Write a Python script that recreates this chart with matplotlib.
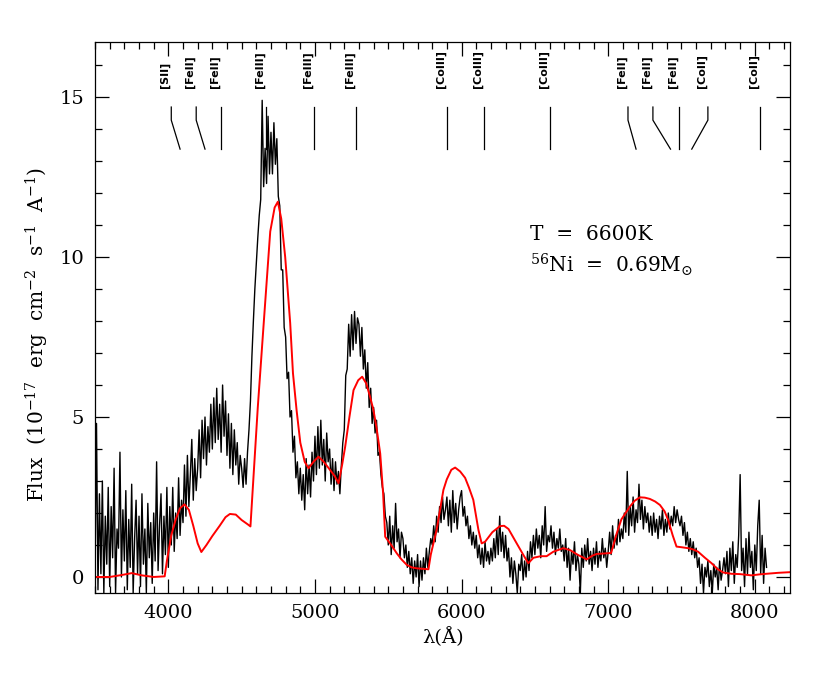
import numpy as np
import matplotlib
matplotlib.use("Agg")
import matplotlib.pyplot as plt

plt.rcParams['font.family'] = 'DejaVu Serif'
plt.rcParams['mathtext.fontset'] = 'dejavuserif'

obs_start = 3500
obs_step = 10
obs_flux = [
    0.2, 4.8, -0.4, 2.6, 0.1, 3.0, -0.5, 1.9, 0.4, 2.8,      # 3500
    -0.3, 2.2, 0.6, 3.4, -0.5, 1.5, 0.9, 3.9, 0.0, 2.1,      # 3600
    0.5, 2.7, -0.4, 1.8, 0.3, 2.9, -0.5, 1.2, 2.4, 0.1,      # 3700
    1.9, -0.3, 2.6, 0.4, 1.5, -0.5, 2.3, 0.6, 1.7, -0.2,     # 3800
    2.0, 0.5, 3.6, 0.2, 1.6, 2.6, 0.1, 1.9, 0.7, 2.8,        # 3900
    0.3, 2.2, 1.0, 2.8, 0.8, 2.0, 1.2, 3.1, 1.3, 2.4,        # 4000
    1.7, 3.5, 1.9, 3.8, 2.2, 3.2, 4.3, 2.4, 3.7, 2.7,        # 4100
    3.4, 4.6, 3.1, 4.9, 3.7, 5.0, 3.5, 4.7, 3.9, 5.4,        # 4200
    4.0, 5.6, 4.2, 5.9, 4.3, 5.4, 3.9, 6.0, 4.4, 5.5,        # 4300
    3.8, 5.1, 3.4, 4.8, 3.2, 4.6, 3.5, 4.2, 2.9, 3.8,        # 4400
    3.4, 2.8, 3.7, 2.9, 3.9, 4.6, 5.5, 6.9, 8.0, 9.0,        # 4500
    9.8, 10.6, 11.3, 11.8, 14.9, 12.2, 13.4, 12.3, 14.4, 12.6,  # 4600
    13.9, 12.6, 14.2, 12.9, 13.7, 11.9, 11.6, 9.6, 9.6, 7.8,    # 4700
    7.5, 6.2, 6.4, 5.0, 5.2, 3.9, 4.4, 3.1, 3.6, 2.6,        # 4800
    3.4, 2.4, 3.2, 2.1, 3.7, 2.6, 3.5, 2.5, 3.9, 3.0,        # 4900
    4.4, 3.2, 4.7, 3.4, 4.9, 3.5, 4.3, 3.0, 4.5, 3.6,        # 5000
    4.0, 2.9, 3.7, 2.7, 3.6, 2.9, 3.3, 2.6, 3.5, 4.2,        # 5100
    4.6, 6.3, 6.5, 7.9, 6.9, 8.2, 7.1, 8.3, 7.3, 8.1,        # 5200
    7.9, 6.9, 7.8, 6.5, 7.1, 5.9, 6.7, 5.3, 5.9, 4.8,        # 5300
    5.3, 4.5, 4.9, 3.8, 3.9, 3.2, 2.8, 2.6, 1.9, 1.7,        # 5400
    1.0, 1.9, 0.7, 1.6, 0.9, 2.3, 1.1, 1.5, 0.6, 1.4,        # 5500
    1.2, 0.6, 1.0, 0.3, 0.8, 0.1, 0.6, -0.2, 0.5, 0.0,       # 5600
    0.7, -0.3, 0.5, -0.1, 0.6, 0.1, 0.9, 0.3, 0.8, 1.2,      # 5700
    1.0, 1.6, 1.1, 1.9, 1.4, 2.2, 1.7, 2.5, 1.8, 2.1,        # 5800
    2.5, 1.6, 2.4, 1.4, 2.7, 1.7, 2.3, 1.5, 2.1, 2.5,        # 5900
    2.7, 1.9, 2.2, 1.6, 1.9, 1.2, 1.6, 1.0, 1.4, 0.9,        # 6000
    1.3, 0.6, 1.0, 0.4, 0.9, 0.3, 1.1, 0.5, 0.8, 0.4,        # 6100
    0.9, 0.5, 1.2, 0.6, 1.5, 0.7, 1.9, 0.8, 1.4, 0.6,        # 6200
    1.3, 0.5, 0.9, 0.0, 0.6, -0.2, 0.5, 0.1, -0.5, 0.4,      # 6300
    0.2, 0.7, -0.1, 0.5, 0.0, 0.8, 0.2, 1.1, 0.6, 1.3,       # 6400
    0.7, 1.5, 0.9, 1.3, 0.6, 1.6, 1.0, 2.2, 0.8, 1.3,        # 6500
    1.1, 1.6, 0.9, 1.4, 0.7, 1.2, 0.9, 1.5, 0.8, 1.0,        # 6600
    0.5, 1.2, 0.3, 0.9, -0.1, 0.8, 0.4, 1.1, 0.2, 0.7,       # 6700
    0.4, -0.5, 0.9, 0.3, 1.0, 0.5, 1.2, 0.4, 0.8, 0.2,       # 6800
    0.9, 0.4, 1.1, 0.3, 0.8, 0.5, 1.2, 0.6, 0.9, 0.3,        # 6900
    0.8, 1.4, 0.7, 1.6, 0.9, 1.3, 1.0, 1.8, 1.1, 1.5,        # 7000
    1.2, 2.0, 1.4, 3.3, 1.3, 2.2, 1.6, 2.5, 1.4, 2.1,        # 7100
    1.7, 2.9, 1.8, 2.4, 1.5, 2.2, 1.7, 2.0, 1.4, 1.9,        # 7200
    1.3, 2.0, 1.4, 1.8, 1.2, 1.9, 1.5, 2.1, 1.3, 1.8,        # 7300
    1.4, 2.0, 1.5, 1.9, 1.6, 2.2, 1.7, 2.1, 1.8, 1.6,        # 7400
    1.9, 1.3, 1.7, 1.0, 1.4, 0.8, 1.2, 0.7, 1.1, 0.6,        # 7500
    0.9, 0.3, 0.6, -0.2, 0.4, -0.5, 0.3, 0.0, 0.5, -0.3,     # 7600
    0.2, -0.5, 0.4, 0.0, 0.3, -0.4, 0.5, -0.1, 0.2, 0.6,     # 7700
    0.1, 0.8, -0.3, 0.9, 0.2, 1.1, -0.2, 0.7, 0.3, 1.3,      # 7800
    3.2, 0.2, 0.9, -0.3, 1.2, 0.1, 1.4, 0.3, 0.8, -0.4,      # 7900
    1.0, 0.2, 1.6, 2.4, 0.1, 1.3, -0.2, 0.9, 0.3,            # 8000
]
obs_wave = obs_start + obs_step * np.arange(len(obs_flux))

# synthetic model spectrum
mod_wave = [3500, 3600, 3680, 3750, 3820, 3900, 3975, 3990, 4020, 4050,
            4080, 4110, 4140, 4170, 4200, 4225, 4260, 4300, 4350, 4390,
            4420, 4460, 4500, 4540, 4560, 4575, 4610, 4650, 4695, 4725,
            4747, 4770, 4797, 4831, 4850, 4875, 4900, 4930, 4956, 4990,
            5024, 5060, 5104, 5135, 5161, 5185, 5206, 5235, 5263, 5295,
            5322, 5350, 5376, 5399, 5422, 5445, 5465, 5479, 5520, 5558,
            5590, 5627, 5660, 5695, 5774, 5790, 5831, 5876, 5899, 5930,
            5956, 5990, 6024, 6050, 6080, 6115, 6137, 6160, 6210, 6262,
            6290, 6320, 6376, 6420, 6455, 6490, 6540, 6580, 6626, 6694,
            6740, 6790, 6853, 6890, 6921, 6990, 7020, 7058, 7090, 7148,
            7180, 7216, 7250, 7284, 7320, 7353, 7385, 7409, 7440, 7466,
            7500, 7545, 7580, 7613, 7660, 7705, 7745, 7784, 7840, 7898,
            7977, 8030, 8079, 8160, 8240]
mod_flux = [0.0, 0.0, 0.06, 0.12, 0.05, 0.0, 0.02, 0.5, 1.3, 1.8,
            2.15, 2.27, 2.1, 1.6, 1.05, 0.78, 1.0, 1.28, 1.6, 1.87,
            1.97, 1.95, 1.78, 1.65, 1.58, 2.7, 5.3, 7.9, 10.8, 11.55,
            11.73, 11.2, 10.0, 7.94, 6.37, 5.2, 4.2, 3.6, 3.4, 3.6,
            3.76, 3.6, 3.34, 3.15, 2.93, 3.5, 4.07, 5.0, 5.84, 6.15,
            6.26, 6.05, 5.63, 5.22, 4.6, 3.86, 2.6, 1.26, 1.0, 0.74,
            0.55, 0.375, 0.3, 0.27, 0.24, 0.7, 1.5, 2.72, 3.05, 3.35,
            3.42, 3.3, 3.1, 2.8, 2.41, 1.47, 1.05, 1.1, 1.4, 1.59,
            1.6, 1.5, 1.05, 0.7, 0.43, 0.6, 0.65, 0.65, 0.79, 0.9,
            0.84, 0.7, 0.55, 0.66, 0.72, 0.74, 0.75, 1.36, 1.8, 2.2,
            2.38, 2.49, 2.48, 2.44, 2.36, 2.25, 2.05, 1.78, 1.3, 0.95,
            0.93, 0.9, 0.86, 0.79, 0.6, 0.43, 0.25, 0.14, 0.1, 0.09,
            0.05, 0.08, 0.1, 0.13, 0.15]

# line identifications: label position and actual line position
line_names = ['[SII]', '[FeII]', '[FeII]', '[FeIII]', '[FeIII]', '[FeIII]',
              '[CoIII]', '[CoIII]', '[CoIII]', '[FeII]', '[FeII]', '[FeII]',
              '[CoII]', '[CoII]']
line_top = [4020, 4190, 4360, 4665, 4995, 5280, 5900, 6150, 6600,
            7135, 7305, 7480, 7680, 8035]
line_pos = [4080, 4250, 4360, 4665, 4995, 5280, 5900, 6150, 6600,
            7190, 7425, 7480, 7570, 8035]

fig = plt.figure(figsize=(8.3, 6.79), dpi=100)
ax = fig.add_axes([0.1145, 0.1267, 0.8373, 0.8113])

ax.plot(obs_wave, obs_flux, color='black', lw=1.0)
ax.plot(mod_wave, mod_flux, color='red', lw=1.4)

for name, xt, xp in zip(line_names, line_top, line_pos):
    ax.plot([xt, xt, xp], [14.69, 14.28, 13.375], color='black', lw=0.9)
    ax.text(xt - 42, 15.28, name, rotation=90, ha='center', va='bottom',
            family='DejaVu Sans', fontweight='bold', fontsize=8)

ax.text(6467, 10.72, 'T  =  6600K', fontsize=14.5, va='center')
ax.text(6467, 9.75, r'$^{56}$Ni  =  0.69M$_{\odot}$', fontsize=14.5, va='center')

ax.set_xlim(3500, 8240)
ax.set_ylim(-0.5, 16.72)
ax.set_xticks([4000, 5000, 6000, 7000, 8000])
ax.set_yticks([0, 5, 10, 15])
ax.set_xticks(np.arange(3500, 8250, 100), minor=True)
ax.set_yticks(np.arange(0, 17, 1), minor=True)
ax.tick_params(which='both', direction='in', top=True, right=True,
               labelsize=14, width=0.9)
ax.tick_params(which='major', length=10, pad=8)
ax.tick_params(which='minor', length=5)
for s in ax.spines.values():
    s.set_linewidth(0.9)

ax.set_xlabel(u'\u03bb(\u00c5)', fontsize=14)
ax.set_ylabel(r'Flux  (10$^{-17}$  erg  cm$^{-2}$  s$^{-1}$  A$^{-1}$)', fontsize=14.5)
ax.yaxis.set_label_coords(-0.064, 0.47)

fig.savefig('out.png', dpi=100)
